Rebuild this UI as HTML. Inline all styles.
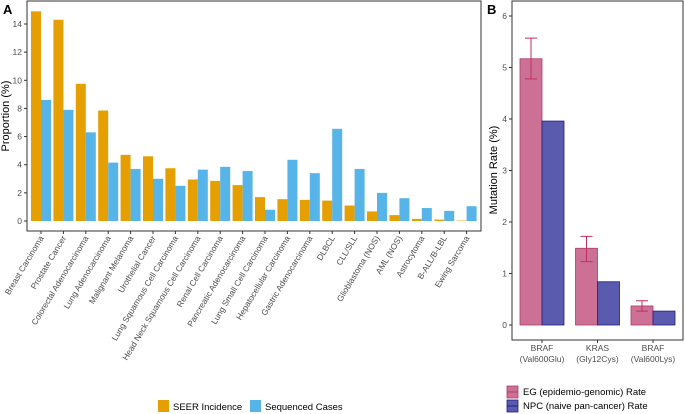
<!DOCTYPE html>
<html><head><meta charset="utf-8"><style>
html,body{margin:0;padding:0;background:#fff;}
svg{display:block;font-family:"Liberation Sans",sans-serif;}
</style></head><body>
<svg id="c" width="685" height="414" viewBox="0 0 685 414"></svg>
<script>
const categories=["Breast Carcinoma","Prostate Cancer","Colorectal Adenocarcinoma","Lung Adenocarcinoma","Malignant Melanoma","Urothelial Cancer","Lung Squamous Cell Carcinoma","Head Neck Squamous Cell Carcinoma","Renal Cell Carcinoma","Pancreatic Adenocarcinoma","Lung Small Cell Carcinoma","Hepatocellular Carcinoma","Gastric Adenocarcinoma","DLBCL","CLL/SLL","Glioblastoma (NOS)","AML (NOS)","Astrocytoma","B-ALL/B-LBL","Ewing Sarcoma"];
const seerValues=[14.9,14.3,9.75,7.85,4.7,4.6,3.75,2.95,2.85,2.55,1.7,1.55,1.5,1.45,1.1,0.68,0.42,0.15,0.1,0.03];
const seqValues=[8.6,7.9,6.3,4.15,3.7,3.0,2.5,3.65,3.85,3.55,0.8,4.35,3.4,6.55,3.7,2.0,1.62,0.92,0.72,1.05];
const yTicksA=[0,2,4,6,8,10,12,14];
const mutCategories=[["BRAF","(Val600Glu)"],["KRAS","(Gly12Cys)"],["BRAF","(Val600Lys)"]];
const egValues=[5.17,1.49,0.37];
const egLow=[4.78,1.23,0.27];
const egHigh=[5.57,1.72,0.47];
const npcValues=[3.96,0.84,0.27];
const yTicksB=[0,1,2,3,4,5,6];

const svg=document.getElementById('c');
const NS="http://www.w3.org/2000/svg";
function mk(tag,attrs,parent){const e=document.createElementNS(NS,tag);for(const k in attrs)e.setAttribute(k,attrs[k]);(parent||svg).appendChild(e);return e;}

// Panel A
const aL=27,aR=481,aT=1,aB=231,a0=221,aScale=(221-24)/14;
const yA=v=>a0-v*aScale;
const xA=i=>41+i*22.4;
const gA=mk('g',{});


const tA=mk('text',{x:3,y:14,'font-size':13,'font-weight':'bold',fill:'#000'},gA);tA.textContent='A';


const bA=mk('rect',{x:aL,y:aT,width:aR-aL,height:aB-aT,fill:'none',stroke:'#333','stroke-width':1},gA);


yTicksA.forEach(t=>{
  mk('line',{x1:aL-3,x2:aL,y1:yA(t),y2:yA(t),stroke:'#333'},gA);
  const tx=mk('text',{x:aL-5,y:yA(t)+3,'font-size':8.5,fill:'#4d4d4d','text-anchor':'end'},gA);tx.textContent=t;
  
  
});
const yt=mk('text',{transform:'translate(9,116) rotate(-90)','font-size':11,fill:'#000','text-anchor':'middle'},gA);yt.textContent='Proportion (%)';


categories.forEach((c,i)=>{
  const cx=xA(i);
  const r1=mk('rect',{x:cx-10,y:yA(seerValues[i]),width:10,height:seerValues[i]*aScale,fill:'#E69F00'},gA);
  
  
  const r2=mk('rect',{x:cx,y:yA(seqValues[i]),width:10,height:seqValues[i]*aScale,fill:'#56B4E9'},gA);
  
  
  mk('line',{x1:cx,x2:cx,y1:aB,y2:aB+3,stroke:'#333'},gA);
  const lb=mk('text',{transform:`translate(${cx+3},${aB+7}) rotate(-59)`,'font-size':8.4,fill:'#4d4d4d','text-anchor':'end'},gA);lb.textContent=c;
  
  
});
const lgA=mk('g',{},gA);


mk('rect',{x:158,y:400,width:11,height:12,fill:'#E69F00'},lgA);
let lt=mk('text',{x:173,y:410,'font-size':9.5,fill:'#000'},lgA);lt.textContent='SEER Incidence';


mk('rect',{x:250,y:400,width:11,height:12,fill:'#56B4E9'},lgA);
lt=mk('text',{x:265,y:410,'font-size':9.5,fill:'#000'},lgA);lt.textContent='Sequenced Cases';



// Panel B
const bL=512,bR=683,bT=1,bBot=340,b0=325,bScale=(325-16)/6;
const yB=v=>b0-v*bScale;
const xB=i=>542+i*55.5;
const gB=mk('g',{});


const tB=mk('text',{x:487,y:14,'font-size':13,'font-weight':'bold',fill:'#000'},gB);tB.textContent='B';


const bb=mk('rect',{x:bL,y:bT,width:bR-bL,height:bBot-bT,fill:'none',stroke:'#333','stroke-width':1},gB);


yTicksB.forEach(t=>{
  mk('line',{x1:bL-3,x2:bL,y1:yB(t),y2:yB(t),stroke:'#333'},gB);
  const tx=mk('text',{x:bL-5,y:yB(t)+3,'font-size':8.5,fill:'#4d4d4d','text-anchor':'end'},gB);tx.textContent=t;
  
  
});
const ytB=mk('text',{transform:'translate(497,170) rotate(-90)','font-size':11,fill:'#000','text-anchor':'middle'},gB);ytB.textContent='Mutation Rate (%)';


mutCategories.forEach((c,i)=>{
  const cx=xB(i);
  const r1=mk('rect',{x:cx-22,y:yB(egValues[i]),width:22,height:egValues[i]*bScale,fill:'#CC7096',stroke:'#B03C6A','stroke-width':0.8},gB);
  
  
  const r2=mk('rect',{x:cx,y:yB(npcValues[i]),width:22,height:npcValues[i]*bScale,fill:'#5A5AAE',stroke:'#1E1E88','stroke-width':0.8},gB);
  
  
  const ex=cx-11;
  const eb=mk('path',{d:`M${ex-6},${yB(egHigh[i])}H${ex+6}M${ex},${yB(egHigh[i])}V${yB(egLow[i])}M${ex-6},${yB(egLow[i])}H${ex+6}`,stroke:'#C2305E','stroke-width':1,fill:'none'},gB);
  
  
  mk('line',{x1:cx,x2:cx,y1:bBot,y2:bBot+3,stroke:'#333'},gB);
  c.forEach((s,j)=>{
    const lb=mk('text',{x:cx,y:bBot+11+j*11,'font-size':8.5,fill:'#4d4d4d','text-anchor':'middle'},gB);lb.textContent=s;
    
    
  });
});
const lgB=mk('g',{},gB);


mk('rect',{x:507,y:386,width:11,height:12,fill:'#CC7096',stroke:'#B03C6A','stroke-width':0.8},lgB);
mk('line',{x1:507,x2:518,y1:392,y2:392,stroke:'#B03C6A'},lgB);
lt=mk('text',{x:523,y:395,'font-size':9.5,fill:'#000'},lgB);lt.textContent='EG (epidemio-genomic) Rate';


mk('rect',{x:507,y:400,width:11,height:12,fill:'#5A5AAE',stroke:'#1E1E88','stroke-width':0.8},lgB);
mk('line',{x1:507,x2:518,y1:406,y2:406,stroke:'#1E1E88'},lgB);
lt=mk('text',{x:523,y:409,'font-size':9.5,fill:'#000'},lgB);lt.textContent='NPC (naive pan-cancer) Rate';


</script>
</body></html>
